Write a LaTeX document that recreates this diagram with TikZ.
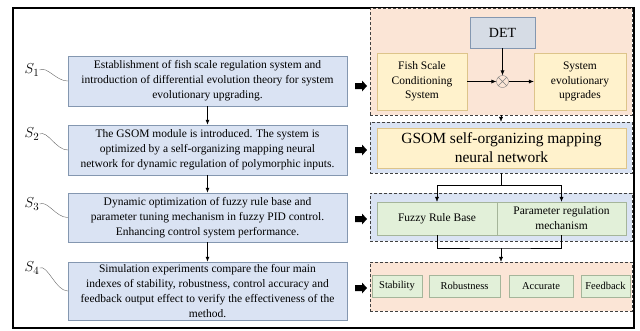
\documentclass[tikz,border=0pt]{standalone}
\usepackage{fontspec}
\setmainfont{Liberation Serif}
\usetikzlibrary{positioning, arrows.meta}
\definecolor{stepfill}{HTML}{DAE3F3}
\definecolor{stepedge}{HTML}{8497B0}
\definecolor{peach}{HTML}{FBE5D6}
\definecolor{cream}{HTML}{FFF2CC}
\definecolor{creamedge}{HTML}{DDC48A}
\definecolor{detfill}{HTML}{D6DCE5}
\definecolor{leaf}{HTML}{E2F0D9}
\definecolor{leafedge}{HTML}{A5B59A}
\tikzset{
  stepbox/.style={draw=stepedge, fill=stepfill, minimum width=279pt, align=center,
    inner sep=0pt, font=\fontsize{11.5}{15}\selectfont},
  panel/.style={draw=black!75, dashed, dash pattern=on 3pt off 2pt, minimum width=262pt, inner sep=0pt},
  ybox/.style={draw=creamedge, fill=cream, align=center, inner sep=0pt, font=\fontsize{11.5}{14.5}\selectfont},
  gbox/.style={draw=leafedge, fill=leaf, align=center, inner sep=0pt, minimum height=33pt, font=\fontsize{11.5}{15}\selectfont},
  ibox/.style={draw=leafedge, fill=leaf, inner sep=0pt, minimum height=22pt, font=\fontsize{10.5}{12}\selectfont},
  slabel/.style={font=\fontsize{15}{15}\selectfont, inner sep=0pt},
  wave/.style={draw=black!60, thin},
  link/.style={-{Latex[length=5pt,width=4pt]}, thick}
}
% thick block arrow pointing right, centred on a coordinate
\newcommand\fatarrow[1]{%
  \fill (#1) ++(-6,-3) -- ++(7,0) -- ++(0,-2.5) -- ++(5,5.5) -- ++(-5,5.5) -- ++(0,-2.5) -- ++(-7,0) -- cycle;}
\begin{document}
\begin{tikzpicture}[x=1pt,y=-1pt]
  \useasboundingbox (0,0) rectangle (640,330);
  \draw[line width=1.6pt] (13,8) rectangle (634,328);

  % steps on the left
  \node[stepbox, minimum height=50pt] (s1) at (207.5,81)
    {Establishment of fish scale regulation system and\\introduction of differential evolution theory for system\\evolutionary upgrading.};
  \node[stepbox, minimum height=50pt] (s2) at (207.5,150)
    {The GSOM module is introduced. The system is\\optimized by a self-organizing mapping neural\\network for dynamic regulation of polymorphic inputs.};
  \node[stepbox, minimum height=49pt] (s3) at (207.5,217.5)
    {Dynamic optimization of fuzzy rule base and\\parameter tuning mechanism in fuzzy PID control.\\Enhancing control system performance.};
  \node[stepbox, minimum height=58pt] (s4) at (207.5,291)
    {Simulation experiments compare the four main\\indexes of stability, robustness, control accuracy and\\feedback output effect to verify the effectiveness of the\\method.};
  \draw[link] (s1) -- (s2);
  \draw[link] (s2) -- (s3);
  \draw[link] (s3) -- (s4);

  \node[slabel] (l1) at (32,70) {$S_1$};
  \node[slabel] (l2) at (32,134) {$S_2$};
  \node[slabel] (l3) at (32,204) {$S_3$};
  \node[slabel] (l4) at (32,268) {$S_4$};
  \draw[wave] (l1.east) .. controls +(8,-4) and +(-12,0) .. (s1.west);
  \draw[wave] (l2.east) .. controls +(8,-4) and +(-12,0) .. (s2.west);
  \draw[wave] (l3.east) .. controls +(8,-4) and +(-12,0) .. (s3.west);
  \draw[wave] (l4.east) .. controls +(8,-4) and +(-12,0) .. (s4.west);

  % dashed panels
  \node[panel, fill=peach, minimum height=107pt] (p1) at (501,61.5) {};
  \node[panel, fill=stepfill, minimum height=51pt] (p2) at (501,147.5) {};
  \node[panel, fill=stepfill, minimum height=48pt] (p3) at (501,217) {};
  \node[panel, fill=peach, minimum height=49pt] (p4) at (501,286.5) {};

  \coordinate (a1) at (361,86);
  \coordinate (a2) at (361,150);
  \coordinate (a3) at (361,219);
  \coordinate (a4) at (361,288);
  \fatarrow{a1} \fatarrow{a2} \fatarrow{a3} \fatarrow{a4}

  % panel 1
  \node[draw=stepedge, fill=detfill, minimum width=65pt, minimum height=31pt, inner sep=0pt,
    font=\fontsize{14}{15}\selectfont] (det) at (502.5,32.5) {DET};
  \node[ybox, minimum width=90pt, minimum height=57pt] (fish) at (422,81.5)
    {Fish Scale\\Conditioning\\System};
  \node[ybox, minimum width=92pt, minimum height=57pt] (sys) at (580,81.5)
    {System\\evolutionary\\upgrades};
  \node[circle, draw=black!50, minimum size=12pt, inner sep=0pt] (mix) at (502.5,81.5) {};
  \draw[black!50] (mix.north west) -- (mix.south east) (mix.north east) -- (mix.south west);
  \draw[link, thin] (fish) -- (mix);
  \draw[link, thin] (mix) -- (sys);
  \draw[link, thin] (det) -- (mix);
  \draw[link, thin] (p1) -- (p2);

  % panel 2
  \node[ybox, minimum width=249pt, minimum height=40pt, font=\fontsize{15.5}{19}\selectfont] (gsom) at (501.5,148)
    {GSOM self-organizing mapping\\neural network};

  % panel 3
  \node[gbox, minimum width=120pt] (fuzzy) at (437,218.5) {Fuzzy Rule Base};
  \node[gbox, minimum width=129pt] (param) at (561.5,218.5) {Parameter regulation\\mechanism};
  \coordinate (split) at (501,185);
  \draw[thin] (p2.south) -- (split);
  \draw[link, thin] (split) -| (fuzzy.north);
  \draw[link, thin] (split) -| (param.north);
  \coordinate (merge) at (501,248);
  \draw[thin] (fuzzy.south) |- (merge) -| (param.south);
  \draw[link, thin] (merge) -- (p4.north);

  % panel 4
  \node[ibox, minimum width=50pt] (stab) at (397,286) {Stability};
  \node[ibox, minimum width=71pt] (rob) at (464.5,286) {Robustness};
  \node[ibox, minimum width=64pt] (acc) at (541,286) {Accurate};
  \node[ibox, minimum width=49pt] (feed) at (605.5,286) {Feedback};
\end{tikzpicture}
\end{document}
